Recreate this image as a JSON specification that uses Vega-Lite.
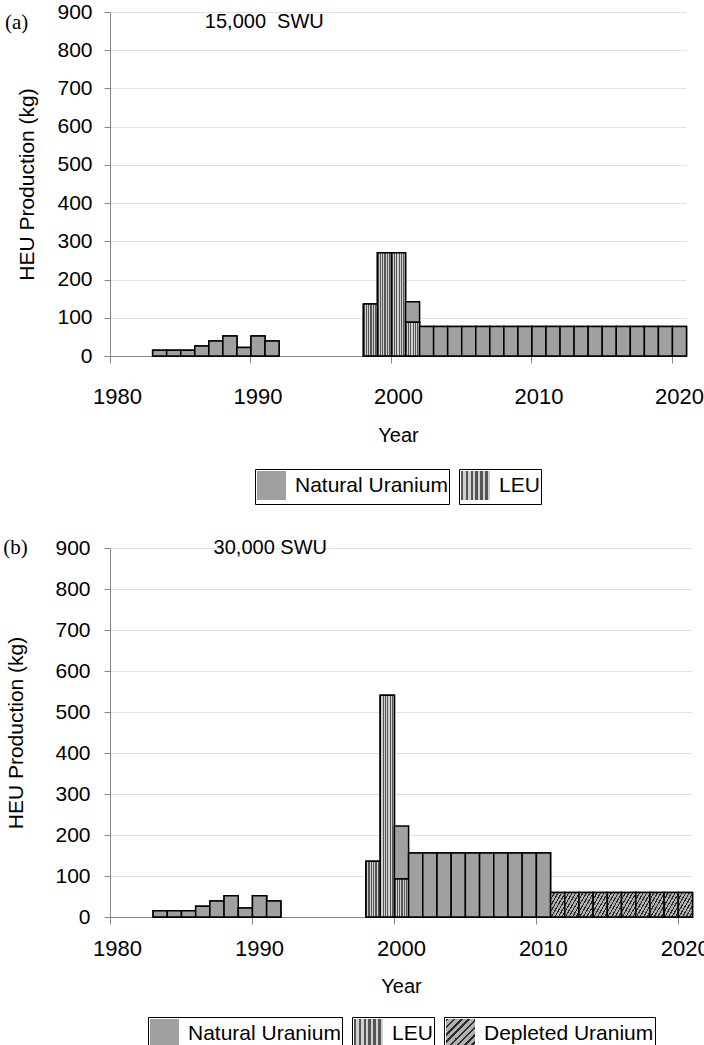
{
  "$schema": "https://vega.github.io/schema/vega-lite/v6.json",
  "padding": {"left": 3, "top": 1, "right": 0, "bottom": 0},
  "datasets": {
    "a": [
      {"year": 1983, "source": "Natural Uranium", "kg": 15},
      {"year": 1984, "source": "Natural Uranium", "kg": 15},
      {"year": 1985, "source": "Natural Uranium", "kg": 15},
      {"year": 1986, "source": "Natural Uranium", "kg": 26},
      {"year": 1987, "source": "Natural Uranium", "kg": 39},
      {"year": 1988, "source": "Natural Uranium", "kg": 52},
      {"year": 1989, "source": "Natural Uranium", "kg": 22},
      {"year": 1990, "source": "Natural Uranium", "kg": 52},
      {"year": 1991, "source": "Natural Uranium", "kg": 39},
      {"year": 1998, "source": "LEU", "kg": 136},
      {"year": 1999, "source": "LEU", "kg": 270},
      {"year": 2000, "source": "LEU", "kg": 270},
      {"year": 2001, "source": "LEU", "kg": 89},
      {"year": 2001, "source": "Natural Uranium", "kg": 53},
      {"year": 2002, "source": "Natural Uranium", "kg": 77},
      {"year": 2003, "source": "Natural Uranium", "kg": 77},
      {"year": 2004, "source": "Natural Uranium", "kg": 77},
      {"year": 2005, "source": "Natural Uranium", "kg": 77},
      {"year": 2006, "source": "Natural Uranium", "kg": 77},
      {"year": 2007, "source": "Natural Uranium", "kg": 77},
      {"year": 2008, "source": "Natural Uranium", "kg": 77},
      {"year": 2009, "source": "Natural Uranium", "kg": 77},
      {"year": 2010, "source": "Natural Uranium", "kg": 77},
      {"year": 2011, "source": "Natural Uranium", "kg": 77},
      {"year": 2012, "source": "Natural Uranium", "kg": 77},
      {"year": 2013, "source": "Natural Uranium", "kg": 77},
      {"year": 2014, "source": "Natural Uranium", "kg": 77},
      {"year": 2015, "source": "Natural Uranium", "kg": 77},
      {"year": 2016, "source": "Natural Uranium", "kg": 77},
      {"year": 2017, "source": "Natural Uranium", "kg": 77},
      {"year": 2018, "source": "Natural Uranium", "kg": 77},
      {"year": 2019, "source": "Natural Uranium", "kg": 77},
      {"year": 2020, "source": "Natural Uranium", "kg": 77}
    ],
    "b": [
      {"year": 1983, "source": "Natural Uranium", "kg": 15},
      {"year": 1984, "source": "Natural Uranium", "kg": 15},
      {"year": 1985, "source": "Natural Uranium", "kg": 15},
      {"year": 1986, "source": "Natural Uranium", "kg": 26},
      {"year": 1987, "source": "Natural Uranium", "kg": 39},
      {"year": 1988, "source": "Natural Uranium", "kg": 52},
      {"year": 1989, "source": "Natural Uranium", "kg": 22},
      {"year": 1990, "source": "Natural Uranium", "kg": 52},
      {"year": 1991, "source": "Natural Uranium", "kg": 39},
      {"year": 1998, "source": "LEU", "kg": 136},
      {"year": 1999, "source": "LEU", "kg": 541},
      {"year": 2000, "source": "LEU", "kg": 93},
      {"year": 2000, "source": "Natural Uranium", "kg": 129},
      {"year": 2001, "source": "Natural Uranium", "kg": 156},
      {"year": 2002, "source": "Natural Uranium", "kg": 156},
      {"year": 2003, "source": "Natural Uranium", "kg": 156},
      {"year": 2004, "source": "Natural Uranium", "kg": 156},
      {"year": 2005, "source": "Natural Uranium", "kg": 156},
      {"year": 2006, "source": "Natural Uranium", "kg": 156},
      {"year": 2007, "source": "Natural Uranium", "kg": 156},
      {"year": 2008, "source": "Natural Uranium", "kg": 156},
      {"year": 2009, "source": "Natural Uranium", "kg": 156},
      {"year": 2010, "source": "Natural Uranium", "kg": 156},
      {"year": 2011, "source": "Depleted Uranium", "kg": 60},
      {"year": 2012, "source": "Depleted Uranium", "kg": 60},
      {"year": 2013, "source": "Depleted Uranium", "kg": 60},
      {"year": 2014, "source": "Depleted Uranium", "kg": 60},
      {"year": 2015, "source": "Depleted Uranium", "kg": 60},
      {"year": 2016, "source": "Depleted Uranium", "kg": 60},
      {"year": 2017, "source": "Depleted Uranium", "kg": 60},
      {"year": 2018, "source": "Depleted Uranium", "kg": 60},
      {"year": 2019, "source": "Depleted Uranium", "kg": 60},
      {"year": 2020, "source": "Depleted Uranium", "kg": 60}
    ]
  },
  "concat": [
    {
      "width": 576,
      "height": 344,
      "layer": [
        {
          "data": {"name": "a"},
          "transform": [{"filter": "datum.source === 'Natural Uranium'"}],
          "mark": {"type": "bar", "stroke": "black", "strokeWidth": 1.5, "binSpacing": 0, "fill": "#a0a0a0"},
          "encoding": {
            "x": {"field": "year", "type": "quantitative", "bin": {"step": 1, "extent": [1980, 2021]}, "scale": {"domain": [1980, 2021]},
              "axis": {"title": "Year", "values": [1980, 1990, 2000, 2010, 2020], "format": "d", "grid": false, "tickSize": 7, "labelFontSize": 22, "labelPadding": 23, "labelOffset": 7, "labelFlush": false, "labelOverlap": false, "titleFontSize": 20, "titlePadding": 18}},
            "y": {"field": "kg", "type": "quantitative", "scale": {"domain": [0, 900]},
              "axis": {"title": "HEU Production (kg)", "values": [0, 100, 200, 300, 400, 500, 600, 700, 800, 900], "grid": true, "tickSize": 6, "labelFontSize": 21, "labelPadding": 12, "labelOverlap": false, "titleFontSize": 21, "titlePadding": 19}},
            "opacity": {"field": "source", "type": "nominal", "scale": {"domain": ["Natural Uranium"], "range": [1]}, "legend": {"offset": 24}}
          }
        },
        {
          "data": {"name": "a"},
          "transform": [{"filter": "datum.source === 'LEU'"}],
          "mark": {"type": "bar", "stroke": "black", "strokeWidth": 1.5, "binSpacing": 0, "fill":
            {"gradient": "linear", "x1": 0, "y1": 0, "x2": 1, "y2": 0, "stops": [
              {"offset": 0, "color": "#555555"}, {"offset": 0.0833, "color": "#555555"},
              {"offset": 0.0833, "color": "#d0d0d0"}, {"offset": 0.1667, "color": "#d0d0d0"},
              {"offset": 0.1667, "color": "#555555"}, {"offset": 0.25, "color": "#555555"},
              {"offset": 0.25, "color": "#d0d0d0"}, {"offset": 0.3333, "color": "#d0d0d0"},
              {"offset": 0.3333, "color": "#555555"}, {"offset": 0.4167, "color": "#555555"},
              {"offset": 0.4167, "color": "#d0d0d0"}, {"offset": 0.5, "color": "#d0d0d0"},
              {"offset": 0.5, "color": "#555555"}, {"offset": 0.5833, "color": "#555555"},
              {"offset": 0.5833, "color": "#d0d0d0"}, {"offset": 0.6667, "color": "#d0d0d0"},
              {"offset": 0.6667, "color": "#555555"}, {"offset": 0.75, "color": "#555555"},
              {"offset": 0.75, "color": "#d0d0d0"}, {"offset": 0.8333, "color": "#d0d0d0"},
              {"offset": 0.8333, "color": "#555555"}, {"offset": 0.9167, "color": "#555555"},
              {"offset": 0.9167, "color": "#d0d0d0"}, {"offset": 1, "color": "#d0d0d0"}]}},
          "encoding": {
            "x": {"field": "year", "type": "quantitative", "bin": {"step": 1, "extent": [1980, 2021]}, "scale": {"domain": [1980, 2021]},
              "axis": {"title": "Year", "values": [1980, 1990, 2000, 2010, 2020], "format": "d", "grid": false, "tickSize": 7, "labelFontSize": 22, "labelPadding": 23, "labelOffset": 7, "labelFlush": false, "labelOverlap": false, "titleFontSize": 20, "titlePadding": 18}},
            "y": {"field": "kg", "type": "quantitative", "scale": {"domain": [0, 900]},
              "axis": {"title": "HEU Production (kg)", "values": [0, 100, 200, 300, 400, 500, 600, 700, 800, 900], "grid": true, "tickSize": 6, "labelFontSize": 21, "labelPadding": 12, "labelOverlap": false, "titleFontSize": 21, "titlePadding": 19}},
            "opacity": {"field": "source", "type": "nominal", "scale": {"domain": ["LEU"], "range": [1]}, "legend": {"offset": 24}}
          }
        },
        {
          "data": {"name": "a"},
          "mark": {"type": "bar", "stroke": "black", "strokeWidth": 1.5, "binSpacing": 0},
          "encoding": {
            "x": {"field": "year", "type": "quantitative", "bin": {"step": 1, "extent": [1980, 2021]}, "scale": {"domain": [1980, 2021]},
              "axis": {"title": "Year", "values": [1980, 1990, 2000, 2010, 2020], "format": "d", "grid": false, "tickSize": 7, "labelFontSize": 22, "labelPadding": 23, "labelOffset": 7, "labelFlush": false, "labelOverlap": false, "titleFontSize": 20, "titlePadding": 18}},
            "y": {"field": "kg", "type": "quantitative", "scale": {"domain": [0, 900]},
              "axis": {"title": "HEU Production (kg)", "values": [0, 100, 200, 300, 400, 500, 600, 700, 800, 900], "grid": true, "tickSize": 6, "labelFontSize": 21, "labelPadding": 12, "labelOverlap": false, "titleFontSize": 21, "titlePadding": 19}},
            "detail": {"field": "source", "type": "nominal"},
            "order": {"field": "source", "sort": "ascending"},
            "fill": {"condition": [{"test": "datum.source === 'LEU'", "value":
              {"gradient": "linear", "x1": 0, "y1": 0, "x2": 1, "y2": 0, "stops": [
                {"offset": 0, "color": "#555555"}, {"offset": 0.0833, "color": "#555555"},
                {"offset": 0.0833, "color": "#d0d0d0"}, {"offset": 0.1667, "color": "#d0d0d0"},
                {"offset": 0.1667, "color": "#555555"}, {"offset": 0.25, "color": "#555555"},
                {"offset": 0.25, "color": "#d0d0d0"}, {"offset": 0.3333, "color": "#d0d0d0"},
                {"offset": 0.3333, "color": "#555555"}, {"offset": 0.4167, "color": "#555555"},
                {"offset": 0.4167, "color": "#d0d0d0"}, {"offset": 0.5, "color": "#d0d0d0"},
                {"offset": 0.5, "color": "#555555"}, {"offset": 0.5833, "color": "#555555"},
                {"offset": 0.5833, "color": "#d0d0d0"}, {"offset": 0.6667, "color": "#d0d0d0"},
                {"offset": 0.6667, "color": "#555555"}, {"offset": 0.75, "color": "#555555"},
                {"offset": 0.75, "color": "#d0d0d0"}, {"offset": 0.8333, "color": "#d0d0d0"},
                {"offset": 0.8333, "color": "#555555"}, {"offset": 0.9167, "color": "#555555"},
                {"offset": 0.9167, "color": "#d0d0d0"}, {"offset": 1, "color": "#d0d0d0"}]}}],
              "value": "#a0a0a0"}
          }
        },
        {
          "data": {"values": [{"label": "15,000\u00a0 SWU"}]},
          "mark": {"type": "text", "align": "left", "baseline": "top", "fontSize": 20, "font": "Liberation Sans", "color": "black"},
          "encoding": {
            "x": {"datum": 1986.75, "type": "quantitative", "scale": {"domain": [1980, 2021]},
              "axis": {"title": "Year", "values": [1980, 1990, 2000, 2010, 2020], "format": "d", "grid": false, "tickSize": 7, "labelFontSize": 22, "labelPadding": 23, "labelOffset": 7, "labelFlush": false, "labelOverlap": false, "titleFontSize": 20, "titlePadding": 18}},
            "y": {"datum": 900, "type": "quantitative", "scale": {"domain": [0, 900]},
              "axis": {"title": "HEU Production (kg)", "values": [0, 100, 200, 300, 400, 500, 600, 700, 800, 900], "grid": true, "tickSize": 6, "labelFontSize": 21, "labelPadding": 12, "labelOverlap": false, "titleFontSize": 21, "titlePadding": 19}},
            "text": {"field": "label"}
          }
        },
        {
          "data": {"values": [{"label": "(a)"}]},
          "mark": {"type": "text", "align": "left", "baseline": "top", "fontSize": 21, "font": "Liberation Serif", "color": "black"},
          "encoding": {
            "x": {"datum": 1972.53, "type": "quantitative", "scale": {"domain": [1980, 2021]},
              "axis": {"title": "Year", "values": [1980, 1990, 2000, 2010, 2020], "format": "d", "grid": false, "tickSize": 7, "labelFontSize": 22, "labelPadding": 23, "labelOffset": 7, "labelFlush": false, "labelOverlap": false, "titleFontSize": 20, "titlePadding": 18}},
            "y": {"datum": 900, "type": "quantitative", "scale": {"domain": [0, 900]},
              "axis": {"title": "HEU Production (kg)", "values": [0, 100, 200, 300, 400, 500, 600, 700, 800, 900], "grid": true, "tickSize": 6, "labelFontSize": 21, "labelPadding": 12, "labelOverlap": false, "titleFontSize": 21, "titlePadding": 19}},
            "text": {"field": "label"}
          }
        }
      ],
      "resolve": {"scale": {"opacity": "independent"}}
    },
    {
      "width": 582,
      "height": 369,
      "layer": [
        {
          "data": {"name": "b"},
          "transform": [{"filter": "datum.source === 'Natural Uranium'"}],
          "mark": {"type": "bar", "stroke": "black", "strokeWidth": 1.5, "binSpacing": 0, "fill": "#a0a0a0"},
          "encoding": {
            "x": {"field": "year", "type": "quantitative", "bin": {"step": 1, "extent": [1980, 2021]}, "scale": {"domain": [1980, 2021]},
              "axis": {"title": "Year", "values": [1980, 1990, 2000, 2010, 2020], "format": "d", "grid": false, "tickSize": 7, "labelFontSize": 22, "labelPadding": 14, "labelOffset": 7, "labelFlush": false, "labelOverlap": false, "titleFontSize": 20, "titlePadding": 17}},
            "y": {"field": "kg", "type": "quantitative", "scale": {"domain": [0, 900]},
              "axis": {"title": "HEU Production (kg)", "values": [0, 100, 200, 300, 400, 500, 600, 700, 800, 900], "grid": true, "tickSize": 6, "labelFontSize": 21, "labelPadding": 14, "labelOverlap": false, "titleFontSize": 21, "titlePadding": 28}},
            "opacity": {"field": "source", "type": "nominal", "scale": {"domain": ["Natural Uranium"], "range": [1]}, "legend": {"offset": 21}}
          }
        },
        {
          "data": {"name": "b"},
          "transform": [{"filter": "datum.source === 'LEU'"}],
          "mark": {"type": "bar", "stroke": "black", "strokeWidth": 1.5, "binSpacing": 0, "fill":
            {"gradient": "linear", "x1": 0, "y1": 0, "x2": 1, "y2": 0, "stops": [
              {"offset": 0, "color": "#555555"}, {"offset": 0.0833, "color": "#555555"},
              {"offset": 0.0833, "color": "#d0d0d0"}, {"offset": 0.1667, "color": "#d0d0d0"},
              {"offset": 0.1667, "color": "#555555"}, {"offset": 0.25, "color": "#555555"},
              {"offset": 0.25, "color": "#d0d0d0"}, {"offset": 0.3333, "color": "#d0d0d0"},
              {"offset": 0.3333, "color": "#555555"}, {"offset": 0.4167, "color": "#555555"},
              {"offset": 0.4167, "color": "#d0d0d0"}, {"offset": 0.5, "color": "#d0d0d0"},
              {"offset": 0.5, "color": "#555555"}, {"offset": 0.5833, "color": "#555555"},
              {"offset": 0.5833, "color": "#d0d0d0"}, {"offset": 0.6667, "color": "#d0d0d0"},
              {"offset": 0.6667, "color": "#555555"}, {"offset": 0.75, "color": "#555555"},
              {"offset": 0.75, "color": "#d0d0d0"}, {"offset": 0.8333, "color": "#d0d0d0"},
              {"offset": 0.8333, "color": "#555555"}, {"offset": 0.9167, "color": "#555555"},
              {"offset": 0.9167, "color": "#d0d0d0"}, {"offset": 1, "color": "#d0d0d0"}]}},
          "encoding": {
            "x": {"field": "year", "type": "quantitative", "bin": {"step": 1, "extent": [1980, 2021]}, "scale": {"domain": [1980, 2021]},
              "axis": {"title": "Year", "values": [1980, 1990, 2000, 2010, 2020], "format": "d", "grid": false, "tickSize": 7, "labelFontSize": 22, "labelPadding": 14, "labelOffset": 7, "labelFlush": false, "labelOverlap": false, "titleFontSize": 20, "titlePadding": 17}},
            "y": {"field": "kg", "type": "quantitative", "scale": {"domain": [0, 900]},
              "axis": {"title": "HEU Production (kg)", "values": [0, 100, 200, 300, 400, 500, 600, 700, 800, 900], "grid": true, "tickSize": 6, "labelFontSize": 21, "labelPadding": 14, "labelOverlap": false, "titleFontSize": 21, "titlePadding": 28}},
            "opacity": {"field": "source", "type": "nominal", "scale": {"domain": ["LEU"], "range": [1]}, "legend": {"offset": 21}}
          }
        },
        {
          "data": {"name": "b"},
          "transform": [{"filter": "datum.source === 'Depleted Uranium'"}],
          "mark": {"type": "bar", "stroke": "black", "strokeWidth": 1.5, "binSpacing": 0, "fill":
            {"gradient": "linear", "x1": 0, "y1": 0, "x2": 1, "y2": 1, "stops": [
              {"offset": 0, "color": "#2a2a2a"}, {"offset": 0.045, "color": "#2a2a2a"}, {"offset": 0.045, "color": "#b0b0b0"}, {"offset": 0.125, "color": "#b0b0b0"},
              {"offset": 0.125, "color": "#2a2a2a"}, {"offset": 0.17, "color": "#2a2a2a"}, {"offset": 0.17, "color": "#b0b0b0"}, {"offset": 0.25, "color": "#b0b0b0"},
              {"offset": 0.25, "color": "#2a2a2a"}, {"offset": 0.295, "color": "#2a2a2a"}, {"offset": 0.295, "color": "#b0b0b0"}, {"offset": 0.375, "color": "#b0b0b0"},
              {"offset": 0.375, "color": "#2a2a2a"}, {"offset": 0.42, "color": "#2a2a2a"}, {"offset": 0.42, "color": "#b0b0b0"}, {"offset": 0.5, "color": "#b0b0b0"},
              {"offset": 0.5, "color": "#2a2a2a"}, {"offset": 0.545, "color": "#2a2a2a"}, {"offset": 0.545, "color": "#b0b0b0"}, {"offset": 0.625, "color": "#b0b0b0"},
              {"offset": 0.625, "color": "#2a2a2a"}, {"offset": 0.67, "color": "#2a2a2a"}, {"offset": 0.67, "color": "#b0b0b0"}, {"offset": 0.75, "color": "#b0b0b0"},
              {"offset": 0.75, "color": "#2a2a2a"}, {"offset": 0.795, "color": "#2a2a2a"}, {"offset": 0.795, "color": "#b0b0b0"}, {"offset": 0.875, "color": "#b0b0b0"},
              {"offset": 0.875, "color": "#2a2a2a"}, {"offset": 0.92, "color": "#2a2a2a"}, {"offset": 0.92, "color": "#b0b0b0"}, {"offset": 1, "color": "#b0b0b0"}]}},
          "encoding": {
            "x": {"field": "year", "type": "quantitative", "bin": {"step": 1, "extent": [1980, 2021]}, "scale": {"domain": [1980, 2021]},
              "axis": {"title": "Year", "values": [1980, 1990, 2000, 2010, 2020], "format": "d", "grid": false, "tickSize": 7, "labelFontSize": 22, "labelPadding": 14, "labelOffset": 7, "labelFlush": false, "labelOverlap": false, "titleFontSize": 20, "titlePadding": 17}},
            "y": {"field": "kg", "type": "quantitative", "scale": {"domain": [0, 900]},
              "axis": {"title": "HEU Production (kg)", "values": [0, 100, 200, 300, 400, 500, 600, 700, 800, 900], "grid": true, "tickSize": 6, "labelFontSize": 21, "labelPadding": 14, "labelOverlap": false, "titleFontSize": 21, "titlePadding": 28}},
            "opacity": {"field": "source", "type": "nominal", "scale": {"domain": ["Depleted Uranium"], "range": [1]}, "legend": {"offset": 21}}
          }
        },
        {
          "data": {"name": "b"},
          "mark": {"type": "bar", "stroke": "black", "strokeWidth": 1.5, "binSpacing": 0},
          "encoding": {
            "x": {"field": "year", "type": "quantitative", "bin": {"step": 1, "extent": [1980, 2021]}, "scale": {"domain": [1980, 2021]},
              "axis": {"title": "Year", "values": [1980, 1990, 2000, 2010, 2020], "format": "d", "grid": false, "tickSize": 7, "labelFontSize": 22, "labelPadding": 14, "labelOffset": 7, "labelFlush": false, "labelOverlap": false, "titleFontSize": 20, "titlePadding": 17}},
            "y": {"field": "kg", "type": "quantitative", "scale": {"domain": [0, 900]},
              "axis": {"title": "HEU Production (kg)", "values": [0, 100, 200, 300, 400, 500, 600, 700, 800, 900], "grid": true, "tickSize": 6, "labelFontSize": 21, "labelPadding": 14, "labelOverlap": false, "titleFontSize": 21, "titlePadding": 28}},
            "detail": {"field": "source", "type": "nominal"},
            "order": {"field": "source", "sort": "ascending"},
            "fill": {"condition": [
              {"test": "datum.source === 'LEU'", "value":
                {"gradient": "linear", "x1": 0, "y1": 0, "x2": 1, "y2": 0, "stops": [
                  {"offset": 0, "color": "#555555"}, {"offset": 0.0833, "color": "#555555"},
                  {"offset": 0.0833, "color": "#d0d0d0"}, {"offset": 0.1667, "color": "#d0d0d0"},
                  {"offset": 0.1667, "color": "#555555"}, {"offset": 0.25, "color": "#555555"},
                  {"offset": 0.25, "color": "#d0d0d0"}, {"offset": 0.3333, "color": "#d0d0d0"},
                  {"offset": 0.3333, "color": "#555555"}, {"offset": 0.4167, "color": "#555555"},
                  {"offset": 0.4167, "color": "#d0d0d0"}, {"offset": 0.5, "color": "#d0d0d0"},
                  {"offset": 0.5, "color": "#555555"}, {"offset": 0.5833, "color": "#555555"},
                  {"offset": 0.5833, "color": "#d0d0d0"}, {"offset": 0.6667, "color": "#d0d0d0"},
                  {"offset": 0.6667, "color": "#555555"}, {"offset": 0.75, "color": "#555555"},
                  {"offset": 0.75, "color": "#d0d0d0"}, {"offset": 0.8333, "color": "#d0d0d0"},
                  {"offset": 0.8333, "color": "#555555"}, {"offset": 0.9167, "color": "#555555"},
                  {"offset": 0.9167, "color": "#d0d0d0"}, {"offset": 1, "color": "#d0d0d0"}]}},
              {"test": "datum.source === 'Depleted Uranium'", "value":
                {"gradient": "linear", "x1": 0, "y1": 0, "x2": 1, "y2": 1, "stops": [
                  {"offset": 0, "color": "#2a2a2a"}, {"offset": 0.045, "color": "#2a2a2a"}, {"offset": 0.045, "color": "#b0b0b0"}, {"offset": 0.125, "color": "#b0b0b0"},
                  {"offset": 0.125, "color": "#2a2a2a"}, {"offset": 0.17, "color": "#2a2a2a"}, {"offset": 0.17, "color": "#b0b0b0"}, {"offset": 0.25, "color": "#b0b0b0"},
                  {"offset": 0.25, "color": "#2a2a2a"}, {"offset": 0.295, "color": "#2a2a2a"}, {"offset": 0.295, "color": "#b0b0b0"}, {"offset": 0.375, "color": "#b0b0b0"},
                  {"offset": 0.375, "color": "#2a2a2a"}, {"offset": 0.42, "color": "#2a2a2a"}, {"offset": 0.42, "color": "#b0b0b0"}, {"offset": 0.5, "color": "#b0b0b0"},
                  {"offset": 0.5, "color": "#2a2a2a"}, {"offset": 0.545, "color": "#2a2a2a"}, {"offset": 0.545, "color": "#b0b0b0"}, {"offset": 0.625, "color": "#b0b0b0"},
                  {"offset": 0.625, "color": "#2a2a2a"}, {"offset": 0.67, "color": "#2a2a2a"}, {"offset": 0.67, "color": "#b0b0b0"}, {"offset": 0.75, "color": "#b0b0b0"},
                  {"offset": 0.75, "color": "#2a2a2a"}, {"offset": 0.795, "color": "#2a2a2a"}, {"offset": 0.795, "color": "#b0b0b0"}, {"offset": 0.875, "color": "#b0b0b0"},
                  {"offset": 0.875, "color": "#2a2a2a"}, {"offset": 0.92, "color": "#2a2a2a"}, {"offset": 0.92, "color": "#b0b0b0"}, {"offset": 1, "color": "#b0b0b0"}]}}],
              "value": "#a0a0a0"}
          }
        },
        {
          "data": {"values": [{"label": "30,000 SWU"}]},
          "mark": {"type": "text", "align": "left", "baseline": "middle", "fontSize": 20, "font": "Liberation Sans", "color": "black"},
          "encoding": {
            "x": {"datum": 1987.3, "type": "quantitative", "scale": {"domain": [1980, 2021]},
              "axis": {"title": "Year", "values": [1980, 1990, 2000, 2010, 2020], "format": "d", "grid": false, "tickSize": 7, "labelFontSize": 22, "labelPadding": 14, "labelOffset": 7, "labelFlush": false, "labelOverlap": false, "titleFontSize": 20, "titlePadding": 17}},
            "y": {"datum": 900, "type": "quantitative", "scale": {"domain": [0, 900]},
              "axis": {"title": "HEU Production (kg)", "values": [0, 100, 200, 300, 400, 500, 600, 700, 800, 900], "grid": true, "tickSize": 6, "labelFontSize": 21, "labelPadding": 14, "labelOverlap": false, "titleFontSize": 21, "titlePadding": 28}},
            "text": {"field": "label"}
          }
        },
        {
          "data": {"values": [{"label": "(b)"}]},
          "mark": {"type": "text", "align": "left", "baseline": "middle", "fontSize": 21, "font": "Liberation Serif", "color": "black"},
          "encoding": {
            "x": {"datum": 1972.48, "type": "quantitative", "scale": {"domain": [1980, 2021]},
              "axis": {"title": "Year", "values": [1980, 1990, 2000, 2010, 2020], "format": "d", "grid": false, "tickSize": 7, "labelFontSize": 22, "labelPadding": 14, "labelOffset": 7, "labelFlush": false, "labelOverlap": false, "titleFontSize": 20, "titlePadding": 17}},
            "y": {"datum": 900, "type": "quantitative", "scale": {"domain": [0, 900]},
              "axis": {"title": "HEU Production (kg)", "values": [0, 100, 200, 300, 400, 500, 600, 700, 800, 900], "grid": true, "tickSize": 6, "labelFontSize": 21, "labelPadding": 14, "labelOverlap": false, "titleFontSize": 21, "titlePadding": 28}},
            "text": {"field": "label"}
          }
        }
      ],
      "resolve": {"scale": {"opacity": "independent"}}
    }
  ],
  "columns": 1,
  "align": "none",
  "spacing": 32,
  "resolve": {"scale": {"x": "independent", "y": "independent", "opacity": "independent"}},
  "config": {
    "view": {"stroke": null},
    "font": "Liberation Sans",
    "axis": {"labelFont": "Liberation Sans", "titleFont": "Liberation Sans", "labelColor": "black", "titleColor": "black", "titleFontWeight": "normal", "domainColor": "#888888", "tickColor": "#888888", "gridColor": "#e2e2e2", "domainWidth": 1, "tickWidth": 1},
    "axisX": {"grid": false},
    "legend": {
      "orient": "bottom",
      "direction": "horizontal",
      "title": null,
      "symbolType": "square",
      "symbolSize": 841,
      "symbolStrokeColor": "black",
      "symbolStrokeWidth": 1.5,
      "labelFont": "Liberation Sans",
      "labelFontSize": 21,
      "labelColor": "black",
      "labelOffset": 8,
      "labelLimit": 400,
      "labelExpr": "datum.label + '\u00a0\u00a0'",
      "padding": 1,
      "strokeColor": "black",
      "fillColor": "white",
      "layout": {"bottom": {"anchor": "middle", "margin": 10}}
    }
  }
}
